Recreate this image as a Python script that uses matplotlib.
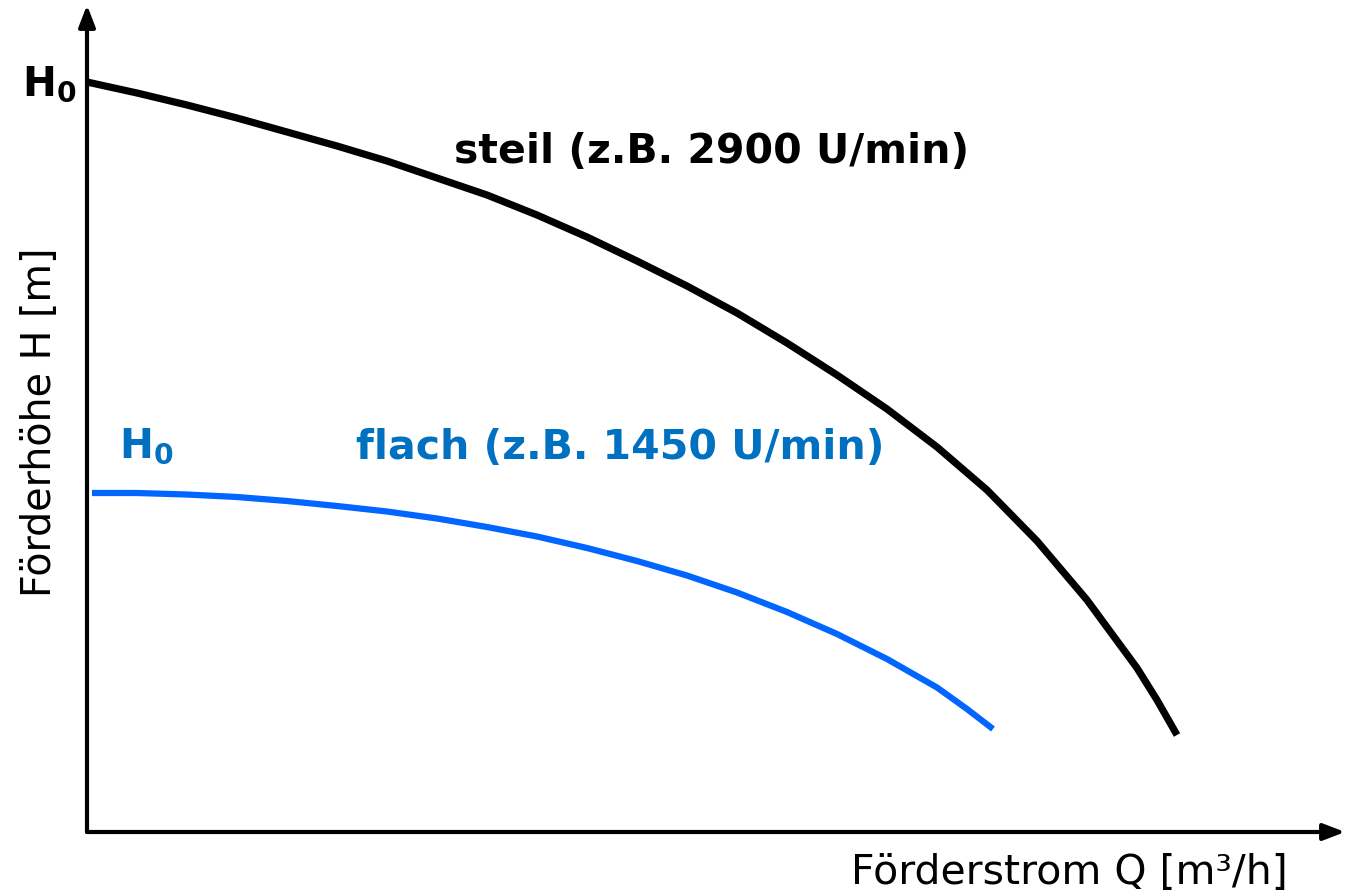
import matplotlib.pyplot as plt

plt.rcParams['font.family'] = ['DejaVu Sans']
plt.rcParams['mathtext.fontset'] = 'dejavusans'

# Kennlinien (relative Einheiten)
q_steil = [0, 50, 100, 150, 200, 250, 300, 350, 400, 450, 500, 550,
           600, 650, 700, 750, 800, 850, 900, 950, 1000, 1050, 1070, 1090]
h_steil = [750, 739, 727, 714, 700, 686, 671, 654, 637, 617, 595, 571,
           546, 519, 489, 457, 423, 385, 342, 291, 232, 164, 132, 97]

q_flach = [5, 50, 100, 150, 200, 250, 300, 350, 400, 450, 500, 550,
           600, 650, 700, 750, 800, 850, 880, 906]
h_flach = [339, 339, 337.5, 335, 331, 326, 320.5, 313.5, 305, 295.5, 284, 271,
           256.5, 239.5, 220, 198, 173, 144.5, 123, 103]

label_steil = "steil (z.B. 2900 U/min)"
label_flach = "flach (z.B. 1450 U/min)"
xlabel = "Förderstrom Q [m³/h]"
ylabel = "Förderhöhe H [m]"

W, H = 1353, 896
fig = plt.figure(figsize=(W / 100, H / 100), dpi=100)
ax = fig.add_axes([87 / W, 64 / H, (1345 - 87) / W, (832 - 5) / H])
ax.set_xlim(0, 1258)
ax.set_ylim(0, 827)
ax.axis('off')

ax.plot(q_steil, h_steil, color='black', lw=5.2, solid_capstyle='butt',
        solid_joinstyle='round')
ax.plot(q_flach, h_flach, color='#0066ff', lw=4.5, solid_capstyle='butt',
        solid_joinstyle='round')

# Achsen mit Pfeilen
arrow = dict(arrowstyle='-|>,head_length=1.3,head_width=0.5', lw=3, color='black',
             shrinkA=0, shrinkB=0)
ax.annotate('', xy=(1.0, 0), xytext=(0, 0), xycoords='axes fraction', arrowprops=arrow)
ax.annotate('', xy=(0, 1.0), xytext=(0, 0), xycoords='axes fraction', arrowprops=arrow)

fig.text(712 / W, 1 - 152 / H, label_steil, fontsize=29.5, fontweight='bold',
         color='black', ha='center', va='center')
fig.text(620 / W, 1 - 448 / H, label_flach, fontsize=29.5, fontweight='bold',
         color='#0070c0', ha='center', va='center')

fig.text(22 / W, 1 - 95 / H, r'$\mathbf{H_0}$', fontsize=29, color='black',
         ha='left', va='baseline')
fig.text(119 / W, 1 - 457 / H, r'$\mathbf{H_0}$', fontsize=29, color='#0070c0',
         ha='left', va='baseline')

fig.text(1288 / W, 1 - 873 / H, xlabel, fontsize=29.5, ha='right', va='center')
fig.text(40 / W, 1 - 422 / H, ylabel, fontsize=28.5, ha='center', va='center',
         rotation=90)

fig.savefig('out.png', dpi=100, facecolor='white')
